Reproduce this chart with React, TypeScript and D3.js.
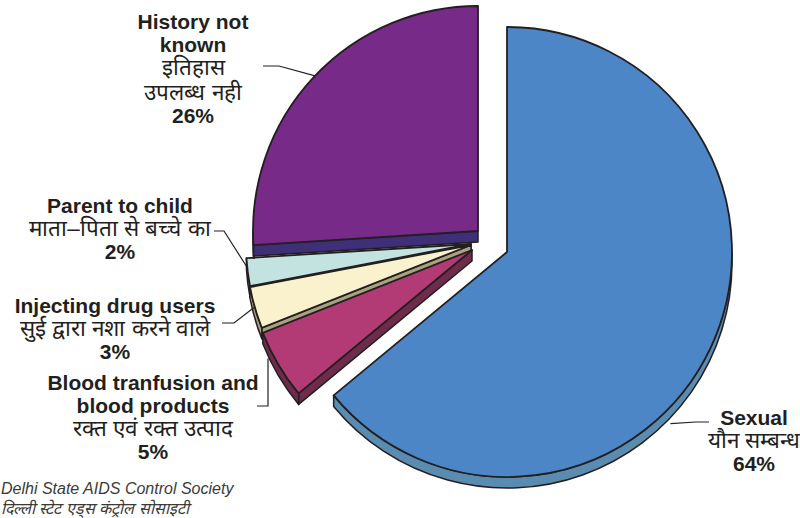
import React from 'react';
import * as d3 from 'd3';

// ---- data ----
const categories = ['Sexual', 'Blood tranfusion and blood products', 'Injecting drug users', 'Parent to child', 'History not known'];
const values = [64, 5, 3, 2, 26];
const labelsEn = [['Sexual'], ['Blood tranfusion and', 'blood products'], ['Injecting drug users'], ['Parent to child'], ['History not', 'known']];
const labelsHi = [['यौन सम्बन्ध'], ['रक्त एवं रक्त उत्पाद'], ['सुई द्वारा नशा करने वाले'], ['माता–पिता से बच्चे का'], ['इतिहास', 'उपलब्ध नही']];
const sourceLines = ['Delhi State AIDS Control Society', 'दिल्ली स्टेट एड्स कंट्रोल सोसाइटी'];

// ---- style / layout ----
const W = 800, H = 518;
const CENTER: [number, number] = [507, 252];
const R = 225;
const DEPTH = 11;
const topColors = ['#4c86c6', '#b33b75', '#faf1cd', '#c3e3e1', '#772a87'];
const sideColors = ['#5a8bb0', '#6e2b4c', '#a9a27f', '#9fc2c0', '#3f2f78'];
const explode: [number, number][] = [[0, 0], [-35, -2], [-36, -7], [-36, -8], [-29, -21]];
const drawOrder = [0, 3, 2, 1, 4];
const INK = '#231f20';
const FONT = "'Liberation Sans', Arial, Helvetica, sans-serif";
const LH = 23;
const LH_HI = 24.5;
const labelLayout = [
  { x: 754, y: 425, leader: [[709, 422], [696, 422]], angle: 136.4, extra: 12 },
  { x: 153, y: 390, leader: [[257, 406], [268, 406]], angle: 242, extra: 6 },
  { x: 115, y: 313, leader: [[222, 323], [234, 323]], angle: 254, extra: 0 },
  { x: 120, y: 213, leader: [[214, 231], [224, 231]], angle: 264, extra: 0 },
  { x: 193, y: 29, leader: [[263, 66], [279, 66]], angle: 313.6, extra: 0 },
];

const rad = (d: number) => (d * Math.PI) / 180;

function sidePaths(V: [number, number], a0: number, a1: number): string[] {
  const P = (a: number, dy = 0): [number, number] => [V[0] + R * Math.sin(a), V[1] - R * Math.cos(a) + dy];
  const out: string[] = [];
  if (Math.sin(a0) < -1e-6) {
    const p = P(a0);
    out.push(`M${V[0]},${V[1]}L${p[0]},${p[1]}L${p[0]},${p[1] + DEPTH}L${V[0]},${V[1] + DEPTH}Z`);
  }
  if (Math.sin(a1) > 1e-6) {
    const p = P(a1);
    out.push(`M${V[0]},${V[1]}L${p[0]},${p[1]}L${p[0]},${p[1] + DEPTH}L${V[0]},${V[1] + DEPTH}Z`);
  }
  const b0 = Math.max(a0, Math.PI / 2), b1 = Math.min(a1, (3 * Math.PI) / 2);
  if (b1 > b0) {
    const p = d3.path();
    p.arc(V[0], V[1], R, b0 - Math.PI / 2, b1 - Math.PI / 2, false);
    const e = P(b1, DEPTH);
    p.lineTo(e[0], e[1]);
    p.arc(V[0], V[1] + DEPTH, R, b1 - Math.PI / 2, b0 - Math.PI / 2, true);
    p.closePath();
    out.push(p.toString());
  }
  return out;
}

export default function App() {
  const pie = d3.pie<number>().sort(null).value((d) => d)(values);
  const arcGen = d3.arc<any>().innerRadius(0).outerRadius(R);
  const vert = (i: number): [number, number] => [CENTER[0] + explode[i][0], CENTER[1] + explode[i][1]];

  return (
    <svg width={W} height={H} style={{ position: 'absolute', left: 0, top: 0, background: '#fff' }}>
      {drawOrder.map((i) => {
        const s = pie[i];
        const V = vert(i);
        return (
          <g key={categories[i]}>
            {sidePaths(V, s.startAngle, s.endAngle).map((d, k) => (
              <path key={k} d={d} fill={sideColors[i]} stroke={INK} strokeWidth={1.5} strokeLinejoin="round" />
            ))}
            <path
              d={arcGen({ startAngle: s.startAngle, endAngle: s.endAngle }) as string}
              transform={`translate(${V[0]},${V[1]})`}
              fill={topColors[i]}
              stroke={INK}
              strokeWidth={1.8}
              strokeLinejoin="round"
            />
          </g>
        );
      })}
      {labelLayout.map((L, i) => {
        const V = vert(i);
        const a = rad(L.angle);
        const end = [V[0] + (R + L.extra) * Math.sin(a), V[1] - (R + L.extra) * Math.cos(a)];
        const pts = [...L.leader, i === 1 ? [L.leader[1][0], end[1]] : end];
        const lines: { t: string; bold: boolean }[] = [
          ...labelsEn[i].map((t) => ({ t, bold: true })),
          ...labelsHi[i].map((t) => ({ t, bold: false })),
          { t: `${values[i]}%`, bold: true },
        ];
        let y = L.y;
        const ys = lines.map((ln, k) => {
          if (k > 0) y += !ln.bold && !lines[k - 1].bold ? LH_HI : LH;
          return y;
        });
        return (
          <g key={'lab' + i}>
            <polyline points={pts.map((p) => p.join(',')).join(' ')} fill="none" stroke={INK} strokeWidth={1.2} />
            {lines.map((ln, k) => (
              <text
                key={k}
                x={L.x}
                y={ys[k]}
                textAnchor="middle"
                fontFamily={FONT}
                fontWeight={ln.bold ? 'bold' : 500}
                fontSize={ln.bold ? 21 : 22.5}
                fill={INK}
              >
                {ln.t}
              </text>
            ))}
          </g>
        );
      })}
      {sourceLines.map((t, k) => (
        <text key={t} x={1} y={494 + k * 20} fontFamily={FONT} fontStyle="italic" fontSize={16} fill="#3a3a3a">
          {t}
        </text>
      ))}
    </svg>
  );
}
